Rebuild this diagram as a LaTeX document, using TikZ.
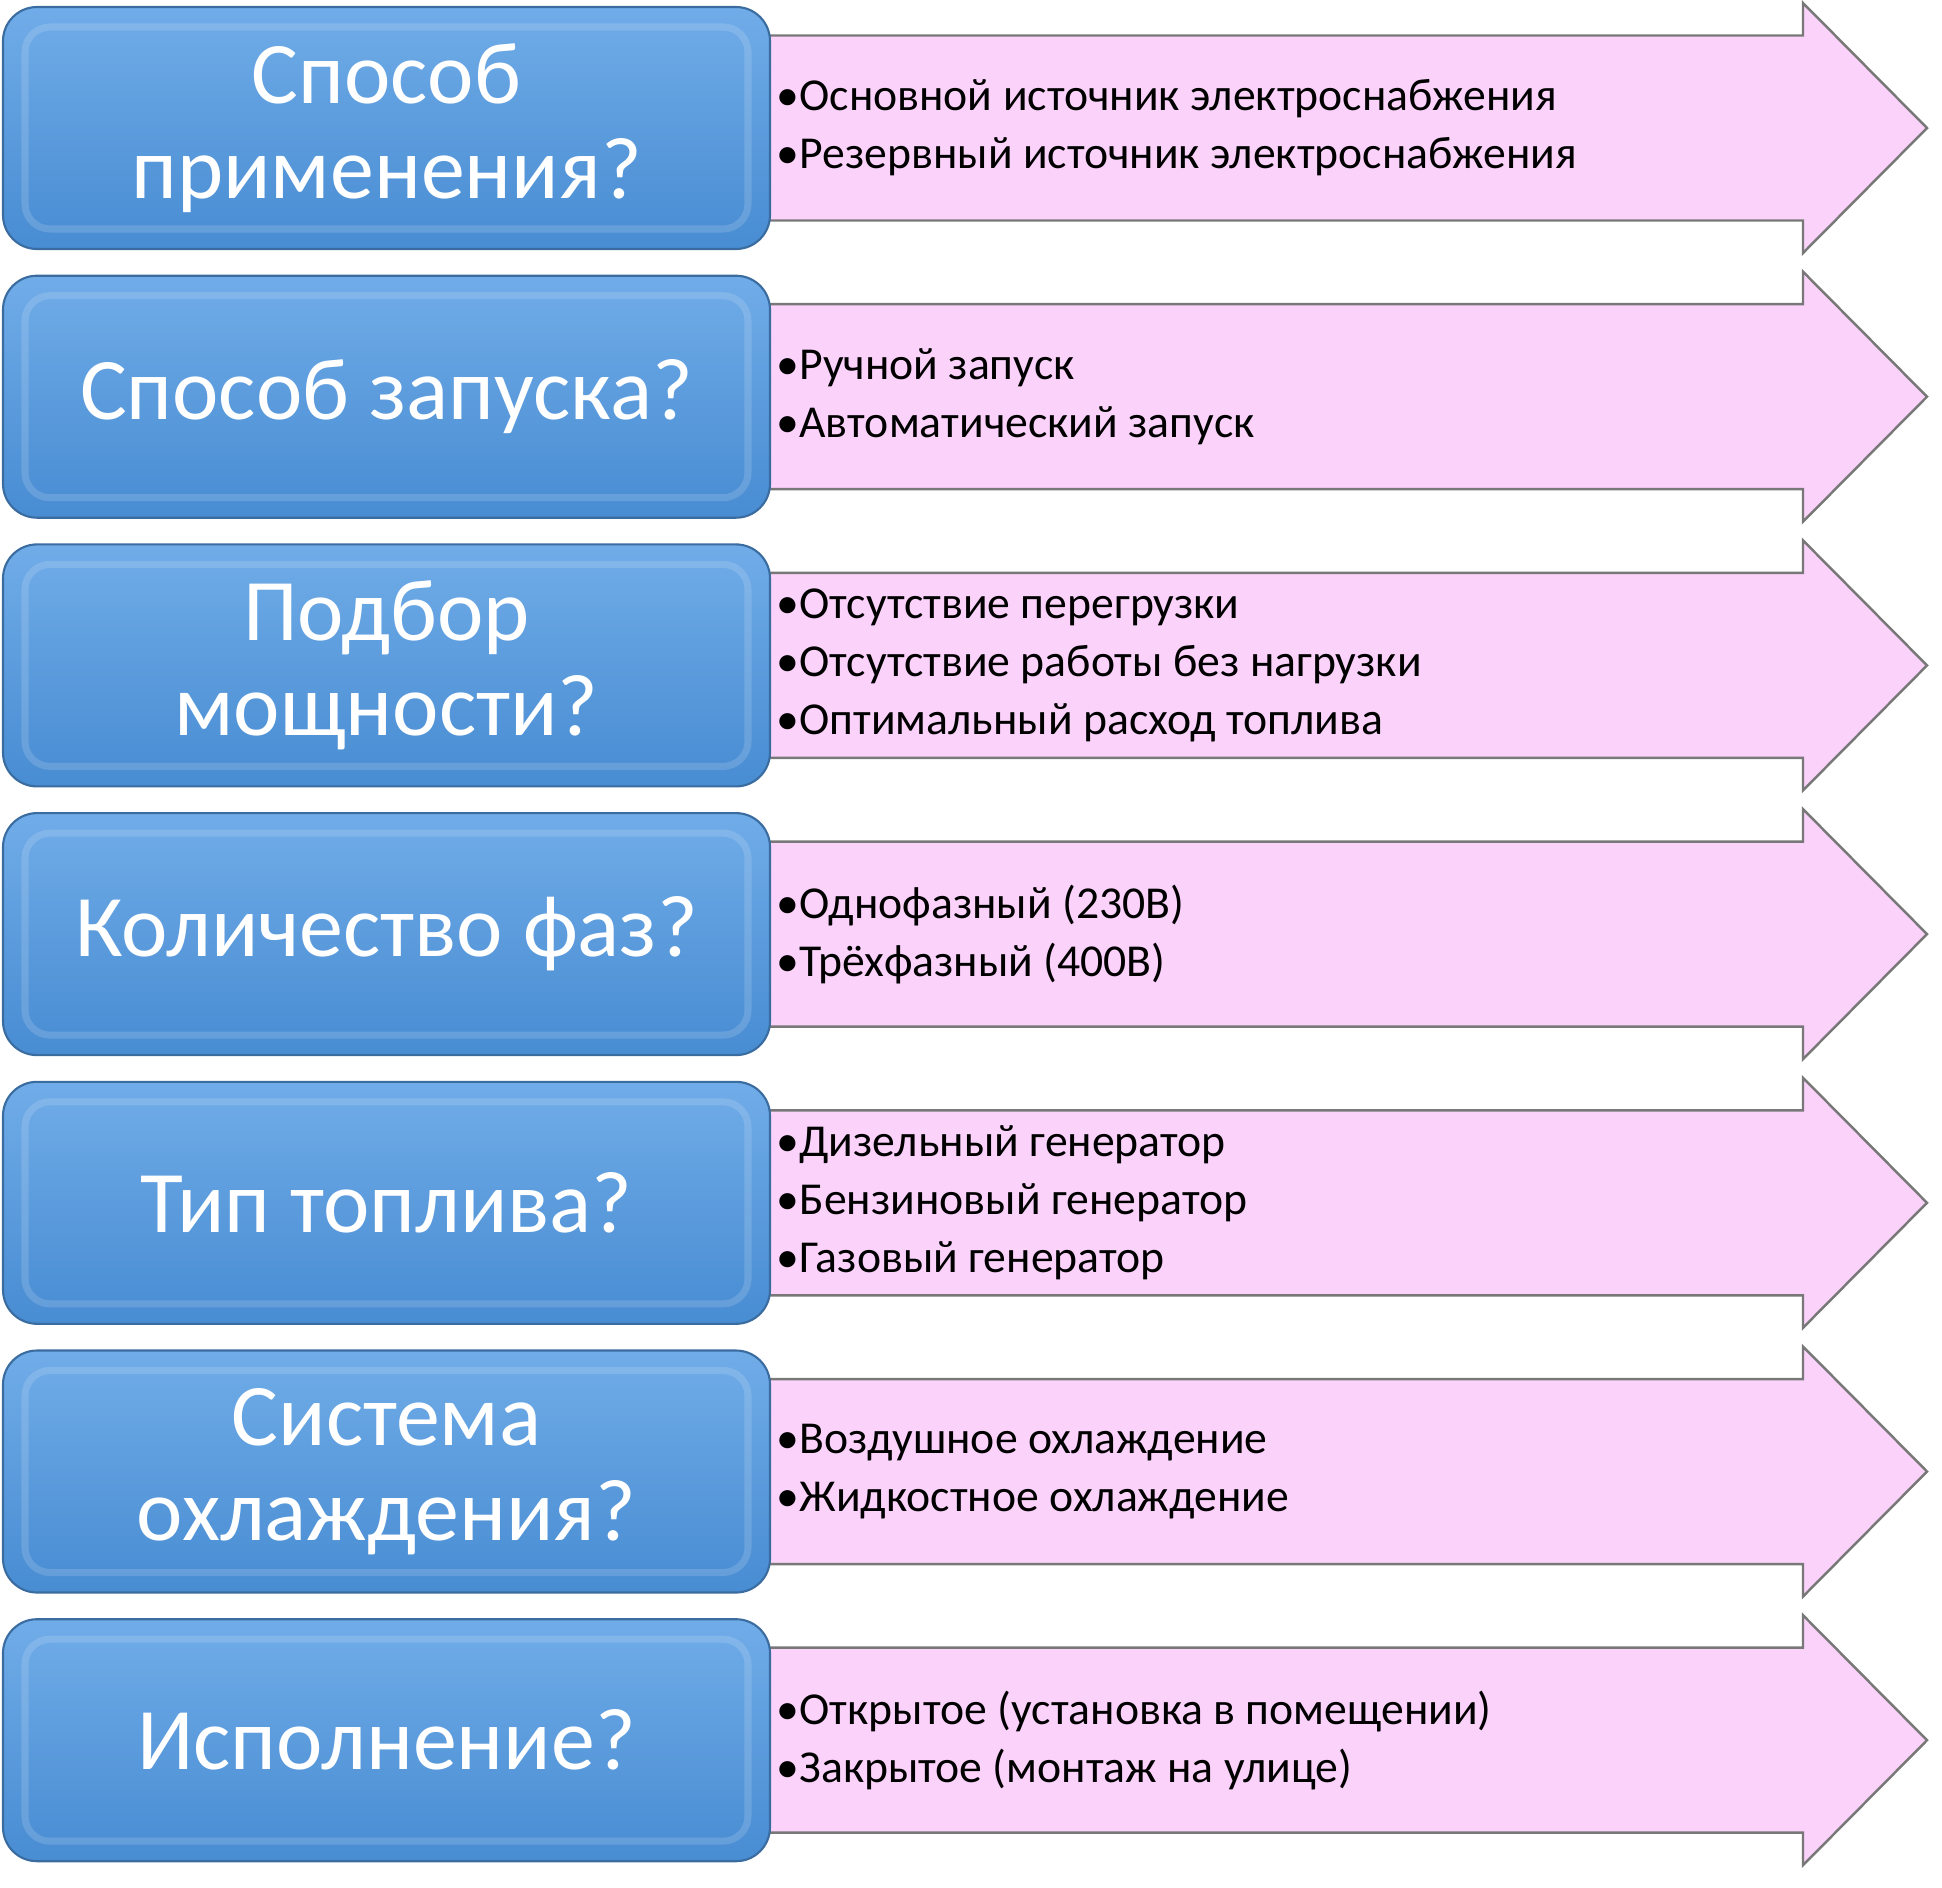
\documentclass[tikz,border=0pt]{standalone}
\usepackage{fontspec}
\setmainfont{Carlito}
\usepackage{tikz}
\usetikzlibrary{positioning,calc,backgrounds}
\definecolor{qbluetop}{RGB}{112,172,232}
\definecolor{qbluebot}{RGB}{72,140,210}
\definecolor{qedge}{RGB}{58,108,160}
\definecolor{pinkfill}{RGB}{250,210,250}
\definecolor{pinkedge}{RGB}{120,120,120}
% pink arrow that carries the answers of one row
\def\PinkArrow#1{%
	\draw[pinkarrow] ($(#1.east)+(-0.1,0.925)$) -- ($(#1.east)+(10.33,0.925)$) -- ($(#1.east)+(10.33,1.25)$)
		-- ($(#1.east)+(11.57,0)$) -- ($(#1.east)+(10.33,-1.25)$) -- ($(#1.east)+(10.33,-0.925)$)
		-- ($(#1.east)+(-0.1,-0.925)$) -- cycle;}

\begin{document}
\begin{tikzpicture}[% styles for the question boxes and the answer arrows
			qbox/.style={
				rectangle,rounded corners=0.34cm,
				minimum width=7.67cm,minimum height=2.42cm,	% all boxes have the same size
				inner sep=0pt,outer sep=0pt,
				draw=qedge,line width=0.6pt,
				top color=qbluetop,bottom color=qbluebot,
				path picture={\draw[white,opacity=.15,line width=2pt,rounded corners=0.25cm]
					($(path picture bounding box.south west)+(0.22,0.2)$) rectangle ($(path picture bounding box.north east)+(-0.22,-0.2)$);}
			},
			qtext/.style={align=center,text=white,font=\fontsize{25}{27.2}\selectfont},
			answers/.style={align=left,inner sep=0pt,font=\fontsize{13}{16.5}\selectfont},
			pinkarrow/.style={draw=pinkedge,line width=0.7pt,fill=pinkfill,line join=miter}
		]
		\useasboundingbox (0,0) rectangle (19.42,-18.87);
		% question boxes
		\node[qbox](q1) at (3.865,-1.28) {};
		\node[qbox](q2)[below=0.267cm of q1] {};
		\node[qbox](q3)[below=0.267cm of q2] {};
		\node[qbox](q4)[below=0.267cm of q3] {};
		\node[qbox](q5)[below=0.267cm of q4] {};
		\node[qbox](q6)[below=0.267cm of q5] {};
		\node[qbox](q7)[below=0.267cm of q6] {};
		% questions
		\node[qtext](t1) at (q1) {Способ\\применения?};
		\node[qtext](t2) at (q2) {Способ запуска?};
		\node[qtext](t3) at (q3) {Подбор\\мощности?};
		\node[qtext](t4) at (q4) {Количество фаз?};
		\node[qtext](t5) at (q5) {Тип топлива?};
		\node[qtext](t6) at (q6) {Система\\охлаждения?};
		\node[qtext](t7) at (q7) {Исполнение?};
		% answers
		\node[answers](a1)[right=0.06cm of q1] {•Основной источник электроснабжения\\•Резервный источник электроснабжения};
		\node[answers](a2)[right=0.06cm of q2] {•Ручной запуск\\•Автоматический запуск};
		\node[answers](a3)[right=0.06cm of q3] {•Отсутствие перегрузки\\•Отсутствие работы без нагрузки\\•Оптимальный расход топлива};
		\node[answers](a4)[right=0.06cm of q4] {•Однофазный (230В)\\•Трёхфазный (400В)};
		\node[answers](a5)[right=0.06cm of q5] {•Дизельный генератор\\•Бензиновый генератор\\•Газовый генератор};
		\node[answers](a6)[right=0.06cm of q6] {•Воздушное охлаждение\\•Жидкостное охлаждение};
		\node[answers](a7)[right=0.06cm of q7] {•Открытое (установка в помещении)\\•Закрытое (монтаж на улице)};
		\begin{scope}[on background layer]
			\PinkArrow{q1}
			\PinkArrow{q2}
			\PinkArrow{q3}
			\PinkArrow{q4}
			\PinkArrow{q5}
			\PinkArrow{q6}
			\PinkArrow{q7}
		\end{scope}
	\end{tikzpicture}
\end{document}
